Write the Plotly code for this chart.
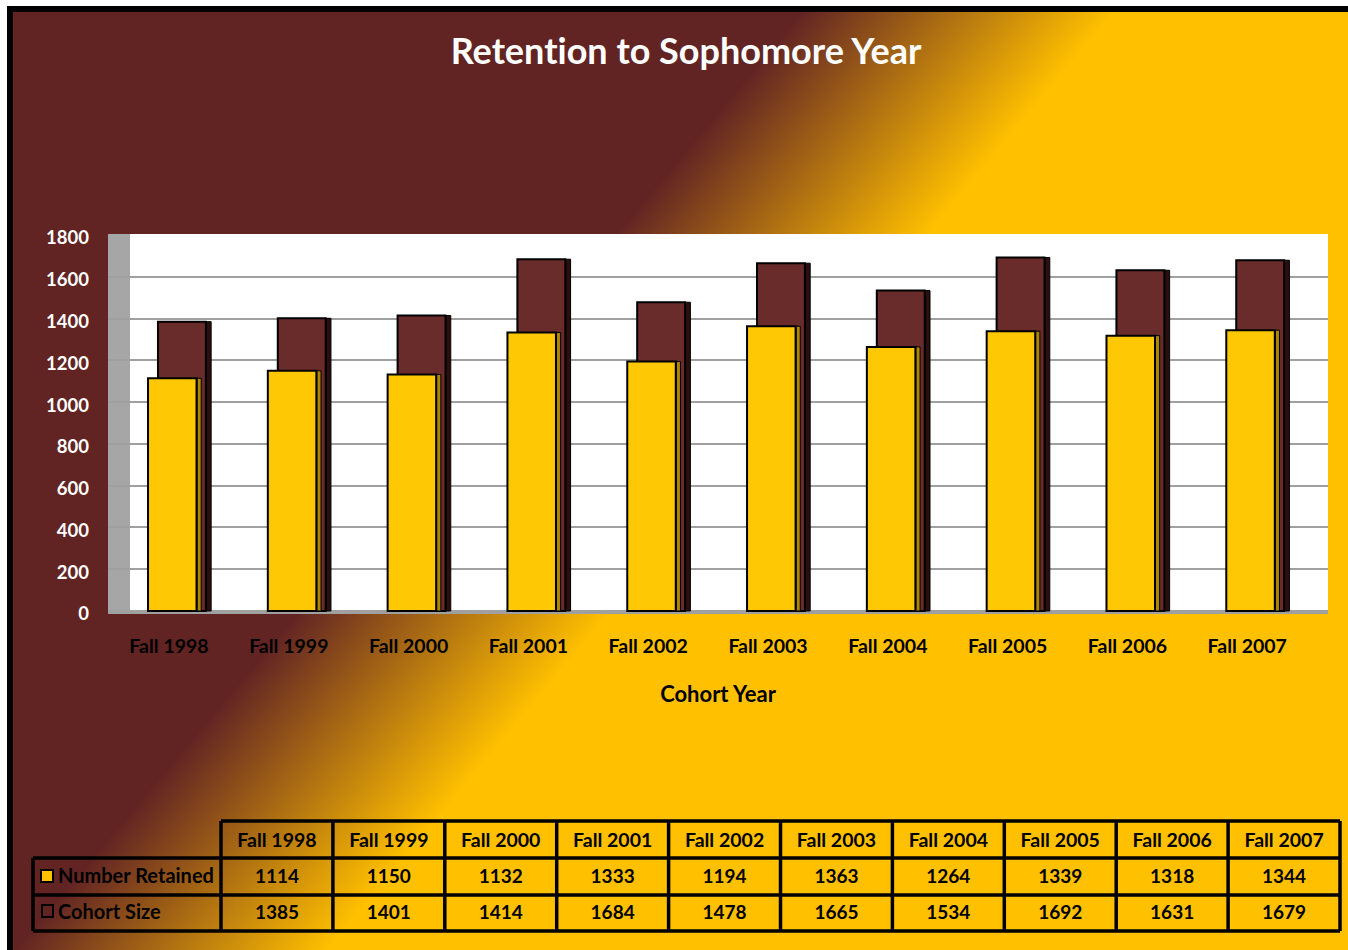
import base64
import plotly.graph_objects as go

categories = ["Fall 1998", "Fall 1999", "Fall 2000", "Fall 2001", "Fall 2002",
              "Fall 2003", "Fall 2004", "Fall 2005", "Fall 2006", "Fall 2007"]
number_retained = [1114, 1150, 1132, 1333, 1194, 1363, 1264, 1339, 1318, 1344]
cohort_size = [1385, 1401, 1414, 1684, 1478, 1665, 1534, 1692, 1631, 1679]
series_names = ["Number\u00a0Retained", "Cohort\u00a0Size"]
y_ticks = [0, 200, 400, 600, 800, 1000, 1200, 1400, 1600, 1800]

MAROON = "#622423"
GOLD = "#FFC000"
FONT = "Lato, Carlito, sans-serif"
W, H = 1348, 950
PLOT_L, PLOT_R, PLOT_T, PLOT_B = 108, 1328, 234, 614


def px(x):
    return x / W


def py(y):
    return 1 - y / H


def rect(x0, y0, x1, y1, color, line=None, layer="below"):
    return dict(type="rect", xref="paper", yref="paper", layer=layer,
                x0=px(x0), x1=px(x1), y0=py(y1), y1=py(y0),
                fillcolor=color, line=line or dict(width=0))


def rule(x0, y0, x1, y1):
    return dict(type="line", xref="paper", yref="paper", layer="above",
                x0=px(x0), x1=px(x1), y0=py(y0), y1=py(y1),
                line=dict(color="#000000", width=3.5))


# page background: diagonal maroon to gold fade
svg = f"""<svg xmlns="http://www.w3.org/2000/svg" width="{W}" height="{H}">
<defs><linearGradient id="g" gradientUnits="userSpaceOnUse" x1="812" y1="0" x2="995.5" y2="154">
<stop offset="0" stop-color="{MAROON}"/><stop offset="1" stop-color="{GOLD}"/>
</linearGradient></defs>
<rect width="{W}" height="{H}" fill="url(#g)"/></svg>"""
bg_src = "data:image/svg+xml;base64," + base64.b64encode(svg.encode()).decode()

fig = go.Figure()


def add_bars(values, offset, width, color, edge=2):
    fig.add_trace(go.Bar(
        x=categories, y=values, offset=offset, width=width,
        marker=dict(color=color, line=dict(color="#000000", width=edge)),
        showlegend=False, hoverinfo="x+y"))


# each column is a front face plus a thin darker side face
add_bars(cohort_size, 0.31, 0.042, "#2A0F0F", edge=1)
add_bars(cohort_size, -0.092, 0.40, "#6A2B2B")
add_bars(number_retained, 0.234, 0.035, "#AD8700", edge=1)
add_bars(number_retained, -0.175, 0.405, "#FFC804")

# table text only; the grid is drawn as rules below because table cells have a fixed text inset
no_line = dict(color="rgba(0,0,0,0)", width=0)
clear = "rgba(0,0,0,0)"
header_font = dict(family=FONT, size=19.5, color="#000000", weight="bold")
cell_font = dict(family=FONT, size=19, color="#000000", weight="bold")
label_font = dict(family=FONT, size=20, color="#000000", weight="bold")

fig.add_trace(go.Table(
    domain=dict(x=[221 / W, 1340 / W], y=[1 - 936 / H, 1 - 824 / H]),
    header=dict(values=categories, height=37, align="center", line=no_line,
                fill_color=clear, font=header_font),
    cells=dict(values=[[r, c] for r, c in zip(number_retained, cohort_size)],
               height=36, align="center", line=no_line, fill_color=clear, font=cell_font),
))
fig.add_trace(go.Table(
    domain=dict(x=[50 / W, 221 / W], y=[1 - 936 / H, 1 - 860 / H]),
    header=dict(values=[series_names[0]], height=36, align="left", line=no_line,
                fill_color=clear, font=label_font),
    cells=dict(values=[[series_names[1]]], height=36, align="left", line=no_line,
               fill_color=clear, font=label_font),
))

grid_xs = [221 + 111.9 * i for i in range(11)]
table_rules = [rule(x, 821, x, 931) for x in grid_xs]
table_rules += [rule(221, 821, 1340, 821), rule(33, 858, 1340, 858),
                rule(33, 895, 1340, 895), rule(33, 931, 1340, 931), rule(33, 858, 33, 931)]

fig.update_layout(
    width=W, height=H,
    autosize=False,
    barmode="overlay",
    paper_bgcolor="#FFFFFF",
    plot_bgcolor="#FFFFFF",
    margin=dict(l=0, r=0, t=0, b=0, pad=0, autoexpand=False),
    font=dict(family=FONT, color="#000000"),
    title=dict(text="<b>Retention to Sophomore Year</b>", x=686 / W, xanchor="center",
               y=1 - 51 / H, yanchor="middle", font=dict(family=FONT, size=36, color="#FFFFFF")),
    xaxis=dict(type="category", categoryorder="array", categoryarray=categories,
               domain=[PLOT_L / W, PLOT_R / W],
               range=[-0.509, 9.674], showgrid=False, zeroline=False, showline=False, ticks="",
               ticklabelstandoff=18,
               tickfont=dict(family=FONT, size=19.5, color="#000000", weight="bold"),
               title=dict(text="<b>Cohort Year</b>", standoff=31,
                          font=dict(family=FONT, size=22, color="#000000"))),
    yaxis=dict(range=[-14.4, 1804.6], tickmode="array", tickvals=y_ticks,
               domain=[1 - PLOT_B / H, 1 - PLOT_T / H],
               showgrid=True, gridcolor="#A0A0A0", gridwidth=2, zeroline=False, showline=False,
               ticks="", ticklabelstandoff=18, ticklabelshift=3,
               tickfont=dict(family=FONT, size=18.5, color="#FFFFFF", weight="bold")),
    images=[dict(source=bg_src, xref="paper", yref="paper", x=0, y=1,
                 sizex=1, sizey=1, sizing="stretch",
                 xanchor="left", yanchor="top", layer="below")],
    shapes=[
        rect(PLOT_L, PLOT_T, PLOT_R, PLOT_B, "#FFFFFF"),
        rect(PLOT_L, PLOT_T, 130, 610, "#A6A6A6"),
        rect(PLOT_L, 610, PLOT_R, PLOT_B, "#A0A0A0"),
        # slide frame
        rect(0, 0, W, 6, "#FFFFFF"),
        rect(0, 0, 7, H, "#FFFFFF"),
        rect(7, 6, W, 12, "#000000"),
        rect(7, 6, 13, H, "#000000"),
        # legend keys inside the table's row headers
        rect(41, 870, 53, 882, GOLD, dict(color="#000000", width=2), layer="above"),
        rect(42, 905, 53, 917, MAROON, dict(color="#000000", width=2), layer="above"),
    ] + table_rules,
)

# drop the browser's default body margin so the figure fills the window, and Lato's "ti" ligature
page_fix = """document.body.style.margin='0';document.body.style.overflow='hidden';
var s=document.createElement('style');
s.textContent='text{font-variant-ligatures:none !important;font-feature-settings:"liga" 0 !important}';
document.head.appendChild(s);"""
fig.write_html("out.html", config={"displayModeBar": False}, post_script=page_fix)
